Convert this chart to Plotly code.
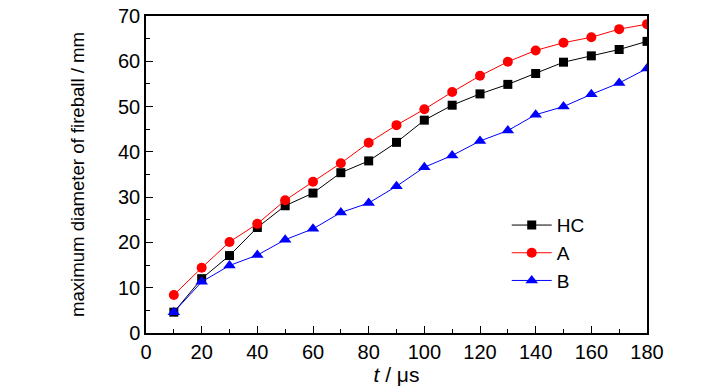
import plotly.graph_objects as go

t = [10, 20, 30, 40, 50, 60, 70, 80, 90, 100, 110, 120, 130, 140, 150, 160, 170, 180]
hc = [4.6, 12.0, 17.1, 23.3, 28.1, 30.9, 35.4, 38.0, 42.1, 47.0, 50.3, 52.8, 54.9, 57.3, 59.8, 61.2, 62.6, 64.4]
a = [8.4, 14.4, 20.1, 24.1, 29.3, 33.4, 37.5, 42.0, 45.9, 49.4, 53.2, 56.8, 59.9, 62.4, 64.1, 65.3, 67.1, 68.2]
b = [4.6, 11.3, 14.9, 17.2, 20.6, 23.0, 26.6, 28.7, 32.4, 36.6, 39.2, 42.4, 44.7, 48.2, 50.0, 52.7, 55.2, 58.4]

FONT = "Liberation Sans, Arial, sans-serif"

fig = go.Figure()
fig.add_trace(go.Scatter(x=t, y=hc, name="HC", mode="lines+markers",
                         line=dict(color="black", width=1),
                         marker=dict(symbol="square", size=9, color="black")))
fig.add_trace(go.Scatter(x=t, y=a, name="A", mode="lines+markers",
                         line=dict(color="red", width=1),
                         marker=dict(symbol="circle", size=10, color="red")))
fig.add_trace(go.Scatter(x=t, y=b, name="B", mode="lines+markers",
                         line=dict(color="blue", width=1),
                         marker=dict(symbol="triangle-up", size=11, color="blue")))

axis_common = dict(showgrid=False, zeroline=False, showline=True, linecolor="black",
                   linewidth=1.5, mirror=True, ticks="inside", ticklen=7, tickwidth=1.2,
                   tickcolor="black", automargin=False, ticklabeloverflow="allow",
                   tickfont=dict(family=FONT, size=20, color="black"))

fig.update_xaxes(range=[0, 180], dtick=20, tick0=0,
                 minor=dict(dtick=10, ticks="inside", ticklen=4, tickcolor="black"),
                 title=dict(text="<i>t</i> / μs", font=dict(family=FONT, size=21, color="black"), standoff=2),
                 **axis_common)
fig.update_yaxes(range=[0, 70], dtick=10, tick0=0,
                 minor=dict(dtick=5, ticks="inside", ticklen=4, tickcolor="black"),
                 title=dict(text="maximum diameter of fireball / mm", font=dict(family=FONT, size=18.6, color="black"), standoff=28),
                 **axis_common)

fig.update_layout(width=728, height=390, margin=dict(l=138, r=89, t=8, b=65),
                  paper_bgcolor="white", plot_bgcolor="white",
                  font=dict(family=FONT, color="black"),
                  legend=dict(x=0.72, y=0.40, xanchor="left", yanchor="top",
                              bgcolor="rgba(0,0,0,0)", font=dict(family=FONT, size=19),
                              itemwidth=40, tracegroupgap=0),
                  showlegend=True)

fig.write_html("out.html")
